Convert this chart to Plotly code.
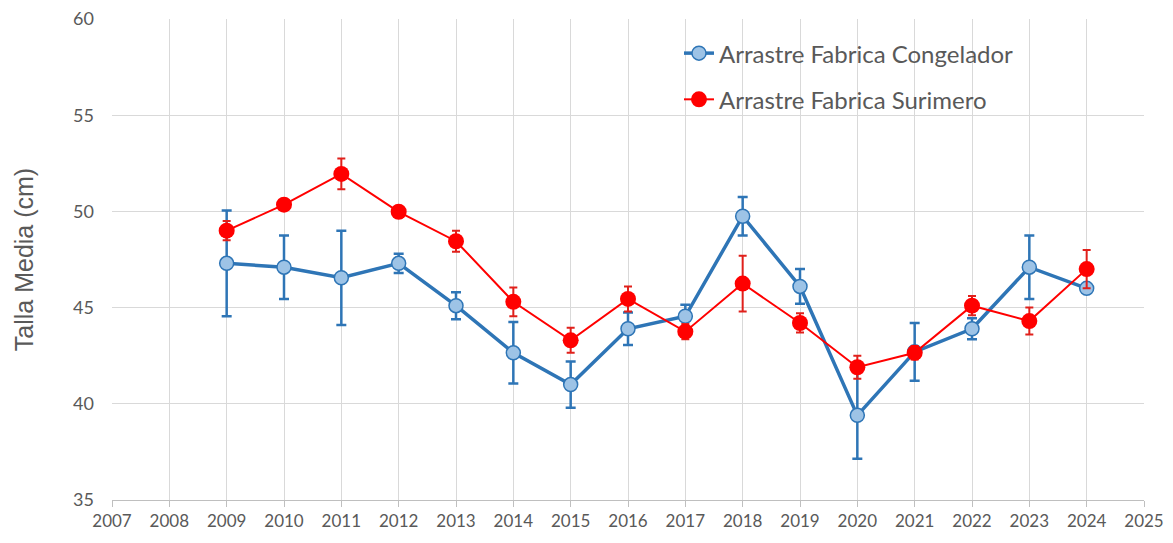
import plotly.graph_objects as go

years = [2009, 2010, 2011, 2012, 2013, 2014, 2015, 2016, 2017, 2018, 2019, 2020, 2021, 2022, 2023, 2024]

congelador = [47.3, 47.1, 46.55, 47.3, 45.1, 42.65, 41.0, 43.9, 44.55, 49.75, 46.1, 39.4, 42.7, 43.9, 47.1, 46.0]
congelador_err = [2.75, 1.65, 2.45, 0.5, 0.7, 1.6, 1.2, 0.85, 0.6, 1.0, 0.9, 2.25, 1.5, 0.55, 1.65, 0.0]

surimero = [49.0, 50.35, 51.95, 49.98, 48.45, 45.3, 43.3, 45.45, 43.75, 46.25, 44.2, 41.9, 42.65, 45.1, 44.3, 47.0]
surimero_err = [0.5, 0.25, 0.8, 0.3, 0.55, 0.75, 0.65, 0.65, 0.4, 1.45, 0.5, 0.6, 0.35, 0.5, 0.7, 1.0]

BLUE = "#2E75B6"
LIGHT_BLUE = "#9DC3E6"
RED = "#FF0000"
GREY_TXT = "#595959"
FONT = "Lato, 'Open Sans', sans-serif"

fig = go.Figure()

fig.add_trace(go.Scatter(
    x=years, y=congelador,
    name="Arrastre Fabrica Congelador",
    legendgroup="a",
    mode="lines+markers",
    line=dict(color=BLUE, width=3.5),
    marker=dict(size=14, color=LIGHT_BLUE, line=dict(color=BLUE, width=1.5)),
    error_y=dict(type="data", array=congelador_err, visible=True,
                 color=BLUE, thickness=2.5, width=5),
))

fig.add_trace(go.Scatter(
    x=years, y=surimero,
    name="Arrastre Fabrica Surimero",
    legendgroup="b",
    mode="lines+markers",
    line=dict(color=RED, width=2),
    marker=dict(size=16, color=RED, line=dict(color=RED, width=0)),
    error_y=dict(type="data", array=surimero_err, visible=True,
                 color="#E0201B", thickness=2, width=4),
))

# page body adds 8px around the figure, margins account for it
fig.update_layout(
    width=1173, height=543,
    margin=dict(l=104, r=37, t=11, b=51),
    paper_bgcolor="white", plot_bgcolor="white",
    font=dict(family=FONT, color=GREY_TXT, size=16),
    showlegend=True,
    legend=dict(
        x=0.5494, y=0.975, xanchor="left", yanchor="top",
        font=dict(size=24, color=GREY_TXT),
        bgcolor="rgba(0,0,0,0)",
        tracegroupgap=12,
        itemwidth=30,
    ),
)

fig.update_xaxes(
    range=[2007, 2025], dtick=1, tick0=2007,
    showgrid=True, gridcolor="#D9D9D9", gridwidth=1,
    showline=True, linecolor="#BFBFBF", linewidth=1,
    ticks="outside", ticklen=6, tickcolor="#BFBFBF",
    tickfont=dict(size=17, color=GREY_TXT),
    ticklabeloverflow="allow", automargin=False,
    zeroline=False,
)
fig.update_yaxes(
    range=[35, 60], dtick=5,
    showgrid=True, gridcolor="#D9D9D9", gridwidth=1,
    showline=False, zeroline=False,
    ticks="", ticklabelstandoff=17,
    tickfont=dict(size=18, color=GREY_TXT),
    ticklabeloverflow="allow", automargin=False,
    title=dict(text="Talla Media (cm)",
               font=dict(size=25, color=GREY_TXT, family="'Liberation Sans', Arial, sans-serif"),
               standoff=32),
)

fig.write_html("out.html")
